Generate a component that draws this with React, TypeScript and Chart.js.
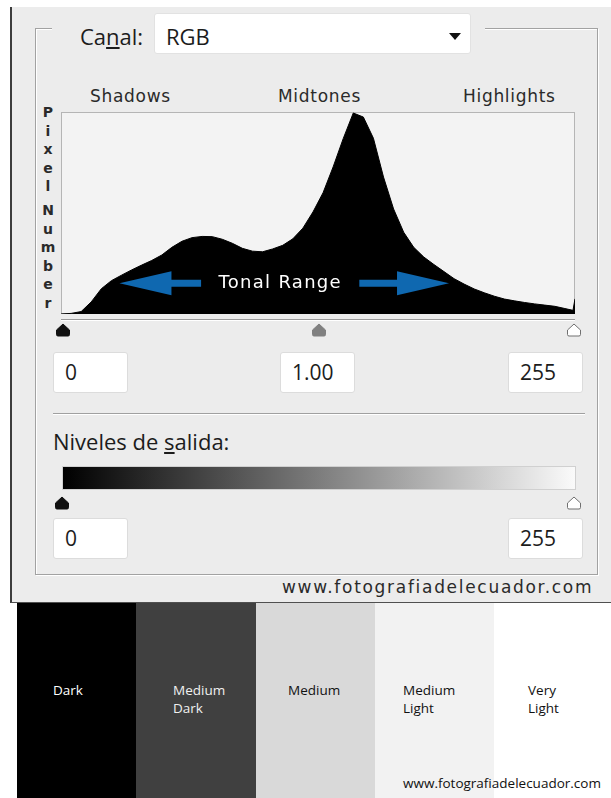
import React, { useEffect, useRef } from "react";
import { Chart, registerables } from "chart.js";

Chart.register(...registerables);

// Histogram data: tonal level (0-255) and relative pixel count
const levels = [0, 5, 10, 15, 20, 25, 30, 35, 40, 45, 50, 55, 60, 65, 70, 75, 80, 85, 90, 95, 100, 105, 110, 115, 120, 125, 130, 135, 140, 145, 150, 155, 160, 165, 170, 175, 180, 185, 190, 195, 200, 205, 210, 215, 220, 225, 230, 235, 240, 245, 250, 254, 255];
const pixelCounts = [0, 3, 12, 60, 125, 165, 192, 218, 242, 265, 292, 330, 360, 378, 384, 383, 370, 350, 325, 311, 308, 322, 340, 372, 425, 505, 600, 728, 868, 995, 975, 870, 678, 520, 405, 330, 282, 245, 210, 175, 148, 124, 105, 88, 74, 65, 57, 50, 44, 38, 27, 18, 75];

const zoneLabels = ["Shadows", "Midtones", "Highlights"];
const axisTitle = "Pixel Number";
const rangeLabel = "Tonal Range";
const rangeLeftTip = 29;
const rangeLeftTail = 69.5;
const rangeRightTail = 148;
const rangeRightTip = 192.5;
const rangeLevel = 152;

const inputValues = ["0", "1.00", "255"];
const outputValues = ["0", "255"];
const toneNames = [["Dark"], ["Medium", "Dark"], ["Medium"], ["Medium", "Light"], ["Very", "Light"]];
const toneColors = ["#000000", "#404040", "#d9d9d9", "#f2f2f2", "#ffffff"];
const toneTextColors = ["#ffffff", "#f0f0f0", "#111111", "#111111", "#111111"];
const siteName = "www.fotografiadelecuador.com";

const UI_FONT = "'Open Sans', 'Noto Sans', sans-serif";
const GEO_FONT = "'DejaVu Sans', sans-serif";

const histogramDecor = {
  id: "histogramDecor",
  beforeDatasetsDraw(chart: any) {
    const { ctx, chartArea } = chart;
    const { left, top, right, bottom } = chartArea;
    ctx.save();
    ctx.fillStyle = "#f3f3f3";
    ctx.fillRect(left, top, right - left, bottom - top);
    ctx.strokeStyle = "#b5b5b5";
    ctx.lineWidth = 1;
    ctx.strokeRect(left + 0.5, top + 0.5, right - left - 1, bottom - top - 1);
    ctx.restore();
  },
  afterDatasetsDraw(chart: any) {
    const { ctx } = chart;
    const xs = chart.scales.x;
    const ys = chart.scales.y;
    const y = ys.getPixelForValue(rangeLevel);
    const headLen = 52;
    const headHalf = 12;
    const shaftHalf = 3.5;
    const drawArrow = (tip: number, tail: number) => {
      const dir = tip < tail ? 1 : -1;
      const base = tip + dir * headLen;
      ctx.beginPath();
      ctx.moveTo(tip, y);
      ctx.lineTo(base, y - headHalf);
      ctx.lineTo(base, y - shaftHalf);
      ctx.lineTo(tail, y - shaftHalf);
      ctx.lineTo(tail, y + shaftHalf);
      ctx.lineTo(base, y + shaftHalf);
      ctx.lineTo(base, y + headHalf);
      ctx.closePath();
      ctx.fill();
    };
    ctx.save();
    ctx.fillStyle = "#0f68b0";
    drawArrow(xs.getPixelForValue(rangeLeftTip), xs.getPixelForValue(rangeLeftTail));
    drawArrow(xs.getPixelForValue(rangeRightTip), xs.getPixelForValue(rangeRightTail));
    ctx.fillStyle = "#ffffff";
    ctx.font = "18px 'DejaVu Sans'";
    (ctx as any).letterSpacing = "1.3px";
    ctx.textAlign = "center";
    ctx.textBaseline = "middle";
    const cx = (xs.getPixelForValue(rangeLeftTail) + xs.getPixelForValue(rangeRightTail)) / 2;
    ctx.fillText(rangeLabel, cx, y);
    ctx.restore();
  },
};

function Histogram() {
  const ref = useRef<HTMLCanvasElement | null>(null);
  useEffect(() => {
    if (!ref.current) return;
    const chart = new Chart(ref.current, {
      type: "line",
      data: {
        datasets: [
          {
            data: levels.map((l, i) => ({ x: l, y: pixelCounts[i] })),
            fill: "origin",
            backgroundColor: "#000000",
            borderColor: "#000000",
            borderWidth: 1,
            pointRadius: 0,
            tension: 0,
          },
        ],
      },
      options: {
        animation: false,
        responsive: false,
        devicePixelRatio: 1,
        layout: { padding: 0 },
        events: [],
        scales: {
          x: { type: "linear", min: 0, max: 255, display: false },
          y: { type: "linear", min: 0, max: 1000, display: false },
        },
        plugins: { legend: { display: false }, tooltip: { enabled: false } },
      },
      plugins: [histogramDecor],
    } as any);
    return () => chart.destroy();
  }, []);
  return (
    <canvas
      ref={ref}
      width={514}
      height={202}
      style={{ position: "absolute", left: 61, top: 112, width: 514, height: 202 }}
    />
  );
}

function Handle({ x, top, fill, stroke }: { x: number; top: number; fill: string; stroke?: string }) {
  return (
    <svg width={16} height={14} style={{ position: "absolute", left: x - 8, top }}>
      <path
        d="M8 1 L14.5 7 L14.5 11.5 Q14.5 13 13 13 L3 13 Q1.5 13 1.5 11.5 L1.5 7 Z"
        fill={fill}
        stroke={stroke || fill}
        strokeWidth={1}
      />
    </svg>
  );
}

function ValueBox({ left, top, text }: { left: number; top: number; text: string }) {
  return (
    <div
      style={{
        position: "absolute",
        left,
        top,
        width: 75,
        height: 41,
        background: "#ffffff",
        border: "1px solid #dcdcdc",
        borderRadius: 3,
        boxSizing: "border-box",
        font: `21px ${UI_FONT}`,
        color: "#1c1c1c",
        lineHeight: "39px",
        paddingLeft: 11,
      }}
    >
      {text}
    </div>
  );
}

export default function App() {
  const abs = (s: React.CSSProperties): React.CSSProperties => ({ position: "absolute", ...s });
  const zoneX = [90, 278, 463];
  const toneX = [17, 136, 256, 375, 494, 611];
  const toneLabelX = [53, 173, 288, 403, 528];
  return (
    <div style={abs({ left: 0, top: 0, width: 611, height: 798, background: "#ffffff", overflow: "hidden" })}>
      {/* dialog */}
      <div
        style={abs({
          left: 10,
          top: 7,
          width: 601,
          height: 596,
          background: "#ececec",
          borderLeft: "2px solid #3d3d3d",
          borderBottom: "1px solid #505050",
          boxSizing: "border-box",
        })}
      />
      {/* group box */}
      <div
        style={abs({
          left: 35,
          top: 28,
          width: 563,
          height: 547,
          border: "1px solid #a2a2a2",
          boxShadow: "inset 1px 1px 0 #ffffff, 1px 1px 0 #ffffff",
          boxSizing: "border-box",
        })}
      />
      <div style={abs({ left: 52, top: 24, width: 433, height: 10, background: "#ececec" })} />
      {/* Canal */}
      <div style={abs({ left: 80, top: 21, font: `22px ${UI_FONT}`, color: "#1c1c1c", lineHeight: "30px" })}>
        Ca<span style={{ textDecoration: "underline" }}>n</span>al:
      </div>
      <div
        style={abs({
          left: 154,
          top: 13,
          width: 317,
          height: 41,
          background: "#ffffff",
          border: "1px solid #e2e2e2",
          borderRadius: 3,
          boxSizing: "border-box",
        })}
      />
      <div style={abs({ left: 166, top: 21, font: `22px ${UI_FONT}`, color: "#1c1c1c", lineHeight: "30px" })}>RGB</div>
      <div
        style={abs({
          left: 449,
          top: 33,
          width: 0,
          height: 0,
          borderLeft: "6px solid transparent",
          borderRight: "6px solid transparent",
          borderTop: "7px solid #111",
        })}
      />
      {/* zone labels */}
      {zoneLabels.map((t, i) => (
        <div
          key={t}
          style={abs({
            left: zoneX[i],
            top: 86,
            font: `17px ${GEO_FONT}`,
            letterSpacing: "0.7px",
            color: "#2a2a2a",
            lineHeight: "20px",
          })}
        >
          {t}
        </div>
      ))}
      {/* vertical axis title */}
      <div style={abs({ left: 40, top: 103, width: 16, textAlign: "center" })}>
        {axisTitle.split("").map((c, i) => (
          <div
            key={i}
            style={{
              font: `bold 14px ${GEO_FONT}`,
              color: "#2a2a2a",
              height: c === " " ? 5 : 18.6,
              lineHeight: "18.6px",
            }}
          >
            {c === " " ? "" : c}
          </div>
        ))}
      </div>
      <Histogram />
      {/* input slider */}
      <div style={abs({ left: 61, top: 319, width: 514, height: 1, background: "#9a9a9a", boxShadow: "0 1px 0 #ffffff" })} />
      <Handle x={63} top={323} fill="#111111" />
      <Handle x={319} top={323} fill="#808080" />
      <Handle x={574} top={323} fill="#ffffff" stroke="#707070" />
      <ValueBox left={53} top={352} text={inputValues[0]} />
      <ValueBox left={280} top={352} text={inputValues[1]} />
      <ValueBox left={508} top={352} text={inputValues[2]} />
      {/* separator */}
      <div style={abs({ left: 53, top: 413, width: 532, height: 1, background: "#a0a0a0", boxShadow: "0 1px 0 #ffffff" })} />
      <div style={abs({ left: 53, top: 426, font: `22px ${UI_FONT}`, color: "#1c1c1c", lineHeight: "30px" })}>
        Niveles de <span style={{ textDecoration: "underline" }}>s</span>alida:
      </div>
      {/* output gradient */}
      <div
        style={abs({
          left: 62,
          top: 466,
          width: 514,
          height: 24,
          background: "linear-gradient(to right, #000000, #fafafa)",
          border: "1px solid #d0d0d0",
          boxSizing: "border-box",
        })}
      />
      <Handle x={62} top={496} fill="#111111" />
      <Handle x={574} top={496} fill="#ffffff" stroke="#707070" />
      <ValueBox left={53} top={518} text={outputValues[0]} />
      <ValueBox left={508} top={518} text={outputValues[1]} />
      <div
        style={abs({
          left: 282,
          top: 577,
          font: `17px ${GEO_FONT}`,
          letterSpacing: "1.7px",
          color: "#2a2a2a",
          lineHeight: "20px",
        })}
      >
        {siteName}
      </div>
      {/* tone swatches */}
      {toneColors.map((c, i) => (
        <div key={i} style={abs({ left: toneX[i], top: 603, width: toneX[i + 1] - toneX[i], height: 195, background: c })} />
      ))}
      {toneNames.map((lines, i) => (
        <div
          key={i}
          style={abs({
            left: toneLabelX[i],
            top: 681,
            font: `13.5px ${UI_FONT}`,
            color: toneTextColors[i],
            lineHeight: "18px",
          })}
        >
          {lines.map((l, j) => (
            <div key={j}>{l}</div>
          ))}
        </div>
      ))}
      <div style={abs({ left: 403, top: 773, font: `13.5px ${UI_FONT}`, color: "#111", lineHeight: "20px" })}>{siteName}</div>
    </div>
  );
}
